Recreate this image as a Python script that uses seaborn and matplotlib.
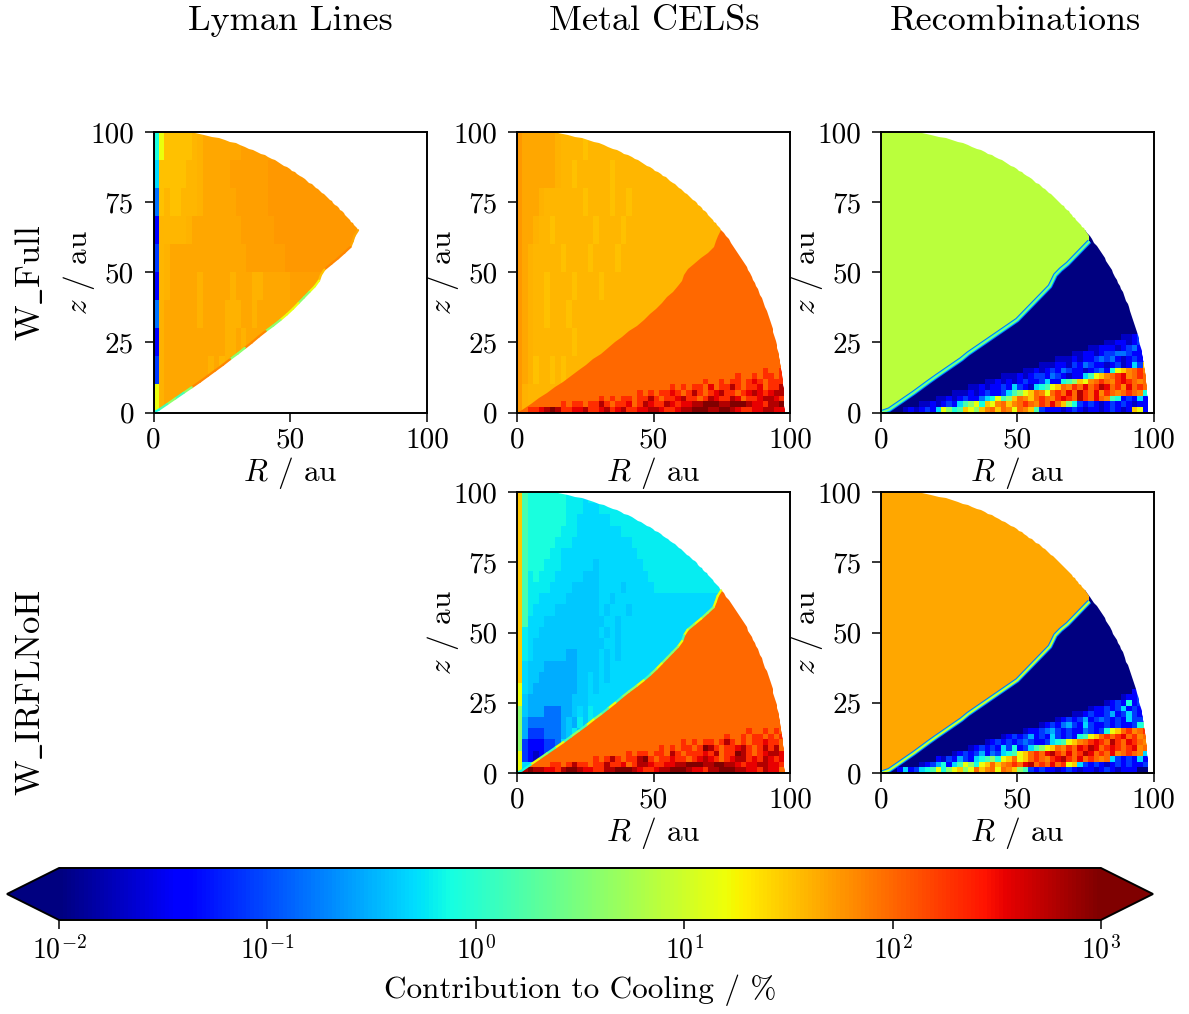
import numpy as np
import matplotlib
matplotlib.use('Agg')
import matplotlib.pyplot as plt
import seaborn as sns
from matplotlib.colors import LogNorm
from matplotlib.cm import ScalarMappable
from matplotlib.patches import Polygon

sns.set_theme(style='ticks')
plt.rcParams['font.family'] = ['cmr10', 'DejaVu Serif']
plt.rcParams['mathtext.fontset'] = 'cm'
plt.rcParams['axes.formatter.use_mathtext'] = True

''' Data read off the picture '''
column_titles = ['Lyman Lines', 'Metal CELSs', 'Recombinations']
row_titles = [r'$\mathrm{W\_Full}$', r'$\mathrm{W\_IRFLNoH}$']
r_ticks = [0, 50, 100]
z_ticks = [0, 25, 50, 75, 100]
cbar_ticks = [1e-2, 1e-1, 1e0, 1e1, 1e2, 1e3]
cbar_labels = [r'$10^{-2}$', r'$10^{-1}$', r'$10^{0}$', r'$10^{1}$', r'$10^{2}$', r'$10^{3}$']

# Each letter in the maps below stands for one contribution in percent
level_chars = 'abcdefkgjhimlynxptqQwsOurvD'
level_percent = [0.01, 0.02, 0.04, 0.08, 0.15, 0.3, 0.4, 0.5, 0.6, 0.8, 1.5, 4, 7.5, 15,
                 30, 34, 38, 41, 45, 50, 55, 70, 100, 200, 350, 600, 1000]

# Cells are 2 au wide. Rows run from z = 100 down to z = 0
cell_au = 2
n_cells = 50
outer_r = 98       # Edge of the grid along R
outer_z = 100.75   # Edge of the grid along z

# Wind/disk boundary: R in au at each height
edge_z = [65, 63, 61, 59, 57, 55, 53, 51, 49, 47, 45, 43, 41, 39, 37, 35, 33,
          31, 29, 27, 25, 23, 21, 19, 17, 15, 13, 11, 9, 7, 5, 3, 1, 0]
metal_edge_r = [74.8, 73.5, 72.8, 72, 69.8, 67.5, 65, 62.5, 61.2, 60.5, 59, 57, 55, 53, 51, 48.8, 46.4,
                43.8, 41, 38.4, 36, 33.4, 30.8, 28, 25.4, 22.6, 19.8, 17, 14, 11, 8, 5, 2, 0]
recomb_edge_r = [74.8, 76.4, 76.5, 74.5, 72.5, 70.5, 68.5, 66, 64, 63, 62, 60, 58, 56, 54, 52, 50,
                 47, 44, 41, 38, 35, 32, 29.5, 26.5, 23.5, 20.5, 17.6, 14.8, 12, 9, 6, 3, 0]

# Wind maps: each string is a band of rows, last letter holds to the right
lyman_wind = ['hyxxxxxptqqqqqqqQQQQQ',
              'gxxxxxpptqqqqqQQQQQQQwww',
              'expxxppptqqqqqqQQQQQQwwwww',
              'cppppptqqqqqqqqqQQQQQQwwwww',
              'dptqqqqqqqqqqqqqqQQQQQQQww',
              'cptqqqqqtqqqqqtqqqttqqqqqQQ',
              'etqqqqqqtqqqqtttqqtqq',
              'ctqqqqqqqqqqqttqtq',
              'dtqqqqqqqqtqptq',
              'ytqqqq']
metal_wind = ['wqqqqqqtppppxpp',
              'wqqqqqqtppxppppppxppp',
              'wqqqtpppppppxppppxppxp',
              'wqqtppxpppppppxppppxp',
              'wqtpppppxppppxppppxpp',
              'wqtppxppppxppppxpp',
              'wqtppxpppxpppp',
              'wqtpppppppxp',
              'wqtxppxpxp',
              'wtpp']
noh_wind = ['nihhhhhhhjjjgj',
            'nihhhhhhhjjjgggjjjjj',
            'nihhhhhhhjjggggggjjjjjj',
            'nihhhhhhjjjggggggggjjjjj',
            'nihhhhhjjjgggggggggggjjjj',
            'nihhhhjjggggggggggggggjjjj',
            'nihhhjjjggggggkggggggggjjjj',
            'nijhjjjgggggkkkgggggggggjjj',
            'nijjjjggggkkkkkggggkgggggjjj',
            'nijjgggggkkkkkkggkgggggggggg',
            'nijggggkkkkkkkkgkgggkgggggg',
            'nigggkkkkkkkkkkkggkggggggg',
            'njggkkkkkkkkkkkgkgkggggg',
            'njgkkkkkkkkkkkkkggkggg',
            'njgkkkkkkffkkkkgkgkgg',
            'ngkkkffffffkkkkgkggg',
            'ngkkfffffffkkgkgkgg',
            'ygkffffffffkkgkgg',
            'ykffffffffkkkggg',
            'mkfffeeeffkgkjgg',
            'mfeeeeeefkfjkj',
            'mfdddeeefkjk',
            'mdcccddeg',
            'ydcbcdg',
            'ygg']
recomb_wind = ['l']
recomb_noh_wind = ['q']

# Letter for each boundary stretch, from z = 65 down
lyman_edge = 'qqqssssxxyymmyyymmsssmmsssssmimihg'
noh_edge = 'yyymmymyiymmmymiymmiyimyimiyimyhh'

# Boundary glow of the recombination panels as letter and line width, widest first
recomb_glow = ['e', 'h', 'm']
recomb_noh_glow = ['e', 'i', 'y']
glow_widths = [3.4, 2.0, 0.9]
glow_from = 2   # The two top boundary points lie on the grid edge

# Bottom rows of the disk
metal_disk = ['O' * 45 + 'uOOuu',
              'O' * 40 + 'uOOuOuuOuu',
              'O' * 34 + 'uOOuOuuOuruOuuuu',
              'O' * 28 + 'uOuOuuOrOuuvuOuurOuuvu',
              'O' * 22 + 'uOuOuuruOuvuOurvuuOurvrurvvr',
              'O' * 15 + 'uOuOuuOuuvuOuurvuuOuvruuvrOuurvvrur',
              'O' * 8 + 'uOuuOuuvuOuurOuvruuvrurrvvDDDvvDDDvrruvvDv',
              'O' * 2 + 'uurvDvuurrvuurvurvuurrvvruurvvDDDvvDDvruurrvvrru']
noh_disk = ['O' * 42 + 'uOOuOuOO',
            'O' * 38 + 'uOOuOuuOuOuu',
            'O' * 30 + 'uOuOuuOuvuOuOuuruuOu',
            'O' * 26 + 'uOuOuuOuDvuOuurvuOuvuvOuuu',
            'O' * 20 + 'uOuuOuuOvuOuuuruvOuuDvuOurvvr',
            'O' * 14 + 'uOuvuOuuvDuOuuruuOurvruOurvvuruvrurv',
            'O' * 6 + 'uuOuvuuOuuvuurOuvvruurrvvDDDvvDDvvrurrvvrruv',
            'rvDvvrruvDDvrruuvvDDDvruurvvDDDvrruvvDDDvvrruvrr']
recomb_disk = ['a' * 47 + 'bcc',
               'a' * 44 + 'bbcdcd',
               'a' * 41 + 'bbccbcdcc',
               'a' * 38 + 'bbcccbcdeccb',
               'a' * 35 + 'bbccbcddeedccbc',
               'a' * 32 + 'bbbcbccdedecbcdcbb',
               'a' * 29 + 'bbbccbdcedccbcdbcgdniu',
               'a' * 26 + 'bbcbcdcedccbcdec' + 'hynsOusu',
               'a' * 22 + 'bbbcbcddcedcbcc' + 'giynsOursOuOs',
               'a' * 19 + 'bbcbcbcdccdgcc' + 'himnysOuOsuruOsOu',
               'a' * 16 + 'bbcbccdcgdcb' + 'ghiynOsuOrOuvrOusrOuOs',
               'a' * 13 + 'bbbcbcdccd' + 'gimynOsyOuOrOvuOrsuOsOuOshd',
               'a' * 10 + 'bbcbcdcce' + 'ghyimnOsnOuOsuruOvuOrOs' + 'ihcdcgcd',
               'a' * 7 + 'bbcbcdc' + 'gimyhnysOnsOuOsuOrOnm' + 'hdcdcbcdcdcbccd',
               'a' * 4 + 'bcbcdc' + 'gymhinymnsOnOsyOsni' + 'dcccbcdcbccbcdcbcnycc']
recomb_noh_disk = ['a' * 46 + 'cdcd',
                   'a' * 44 + 'bccdcd',
                   'a' * 41 + 'bcdchcdcc',
                   'a' * 38 + 'bccdcdgcdcde',
                   'a' * 35 + 'bbcdccdfcdgdccd',
                   'a' * 32 + 'bcdcdfcdedcdcgddcc',
                   'a' * 29 + 'bcdcefdcgdccdcdccdhiy',
                   'a' * 26 + 'bccdefdcdccedcdh' + 'ynOusOuh',
                   'a' * 22 + 'bcdcdfcdcgdcdch' + 'iynOuOurOusOg',
                   'a' * 19 + 'bcdcdcdedccdgh' + 'iynsOuruOvuOruOsh',
                   'a' * 16 + 'bcdcdcgdhcdg' + 'imynOsuOruvrOuruOursOu',
                   'a' * 13 + 'bcdcdfcedg' + 'hiynOuOrvuOrOuvrOuOrsOuOsg',
                   'a' * 10 + 'cbdcfdcgh' + 'imhynOynOuOsurvuOrOuOsO' + 'gdcdcgcd',
                   'a' * 7 + 'bcdfhcg' + 'iymhynOnsOuOrvOuOrOuyn' + 'gdcdcbcdcdccd',
                   'a' * 3 + 'cgcdgh' + 'iyhmynmyOnsOyOsnmi' + 'dcdccbcdcbccbcdcbccc']

''' Build the cell maps '''
percent_of = dict(zip(level_chars, level_percent))


def letters_to_field(rows):
    return np.array([[percent_of[c] for c in row] for row in rows])


def wind_field(bands):
    rows = []
    for i in range(n_cells):
        band = bands[i * len(bands) // n_cells]
        rows.append(band.ljust(n_cells, band[-1])[:n_cells])
    return letters_to_field(rows)


def disk_field(disk_rows, fill):
    rows = [fill * n_cells] * (n_cells - len(disk_rows))
    rows += [row.ljust(n_cells, fill)[:n_cells] for row in disk_rows]
    return letters_to_field(rows)


''' Plot '''
W, H = 1189, 1014
fig = plt.figure(figsize=(W / 100, H / 100), dpi=100)
norm = LogNorm(vmin=1e-2, vmax=1e3)
jet = plt.get_cmap('jet')
tick_font = 21
label_font = 22.5


def level_colour(letter):
    return jet(norm(percent_of[letter]))


def arc_points(z_from, z_to):
    arc_z = np.linspace(z_from, z_to, 60)
    arc_x = outer_r * np.sqrt(1 - (arc_z / outer_z) ** 2) / cell_au
    return np.column_stack((arc_x, n_cells - arc_z / cell_au))


def add_panel(wind, edge_r, disk, left, top, right, bottom, edge_letters='', glow=()):
    ax = fig.add_axes([left / W, 1 - bottom / H, (right - left) / W, (bottom - top) / H])
    edge = np.column_stack((np.array(edge_r) / cell_au, n_cells - np.array(edge_z) / cell_au))

    # Disk underneath, reaching a little under the wind so no seam shows
    if disk is not None:
        sns.heatmap(disk, ax=ax, cmap=jet, norm=norm, cbar=False, xticklabels=False, yticklabels=False)
        under = np.column_stack((np.clip(edge[:, 0] - 1, 0, None), edge[:, 1]))
        disk_outline = np.vstack((under, arc_points(0, edge_z[0])))
        ax.collections[-1].set_clip_path(Polygon(disk_outline, closed=True, transform=ax.transData))

    # Wind on top, clipped to the grid edge and the boundary
    sns.heatmap(wind, ax=ax, cmap=jet, norm=norm, cbar=False, xticklabels=False, yticklabels=False)
    wind_outline = np.vstack((arc_points(outer_z, edge_z[0]), edge, [0, n_cells]))
    ax.collections[-1].set_clip_path(Polygon(wind_outline, closed=True, transform=ax.transData))

    # Thin boundary layer
    for letter, lw in zip(glow, glow_widths):
        ax.plot(edge[glow_from:, 0], edge[glow_from:, 1], color=level_colour(letter), lw=lw, solid_capstyle='butt')
    for i, letter in enumerate(edge_letters[:len(edge) - 1]):
        ax.plot(edge[i:i + 2, 0], edge[i:i + 2, 1], color=level_colour(letter), lw=1.6, solid_capstyle='round')

    ax.set_xlim(0, n_cells)
    ax.set_ylim(n_cells, 0)
    ax.set_xticks([t / cell_au for t in r_ticks], labels=r_ticks, rotation=0)
    ax.set_yticks([n_cells - t / cell_au for t in z_ticks], labels=z_ticks, rotation=0)
    ax.tick_params(length=6.5, width=1.1, labelsize=tick_font, color='black', labelcolor='black')
    ax.tick_params(axis='x', pad=4)
    ax.tick_params(axis='y', pad=7.5)
    for spine in ax.spines.values():
        spine.set_visible(True)
        spine.set_linewidth(1.4)
        spine.set_color('black')
    ax.set_xlabel(r'$R$ / au', fontsize=label_font, labelpad=1, color='black')
    ax.set_ylabel(r'$z$ / au', fontsize=label_font, labelpad=-5, color='black')
    return ax


add_panel(wind_field(lyman_wind), metal_edge_r, None, 153.5, 132, 427, 412.5, edge_letters=lyman_edge)
add_panel(wind_field(metal_wind), metal_edge_r, disk_field(metal_disk, 'O'), 517, 132, 790, 412.5)
add_panel(wind_field(recomb_wind), recomb_edge_r, disk_field(recomb_disk, 'a'), 881, 132, 1153.5, 412.5,
          glow=recomb_glow)
add_panel(wind_field(noh_wind), metal_edge_r, disk_field(noh_disk, 'O'), 517, 492, 790, 773, edge_letters=noh_edge)
add_panel(wind_field(recomb_noh_wind), recomb_edge_r, disk_field(recomb_noh_disk, 'a'), 881, 492, 1153.5, 773,
          glow=recomb_noh_glow)

# Column and row titles
for title, x in zip(column_titles, [290, 654, 1015]):
    fig.text(x / W, 1 - 21 / H, title, fontsize=26, ha='center', va='center', color='black')
for title, y in zip(row_titles, [283, 693]):
    fig.text(31 / W, 1 - y / H, title, fontsize=25, rotation=90, ha='center', va='center', color='black')

# Colour bar, the two end arrows lie inside the axes
cax = fig.add_axes([7 / W, 1 - 920 / H, (1153 - 7) / W, 52 / H])
cbar = fig.colorbar(ScalarMappable(norm=norm, cmap=jet), cax=cax, orientation='horizontal',
                    extend='both', extendfrac=0.05)
cbar.set_ticks(cbar_ticks, labels=cbar_labels)
cbar.minorticks_off()
cbar.ax.tick_params(length=6.5, width=1.1, labelsize=20, pad=5, color='black', labelcolor='black')
cbar.outline.set_linewidth(1.4)
cbar.outline.set_edgecolor('black')
cbar.set_label('Contribution to Cooling / %', fontsize=22.5, labelpad=7, color='black')

fig.savefig('out.png', dpi=100)
